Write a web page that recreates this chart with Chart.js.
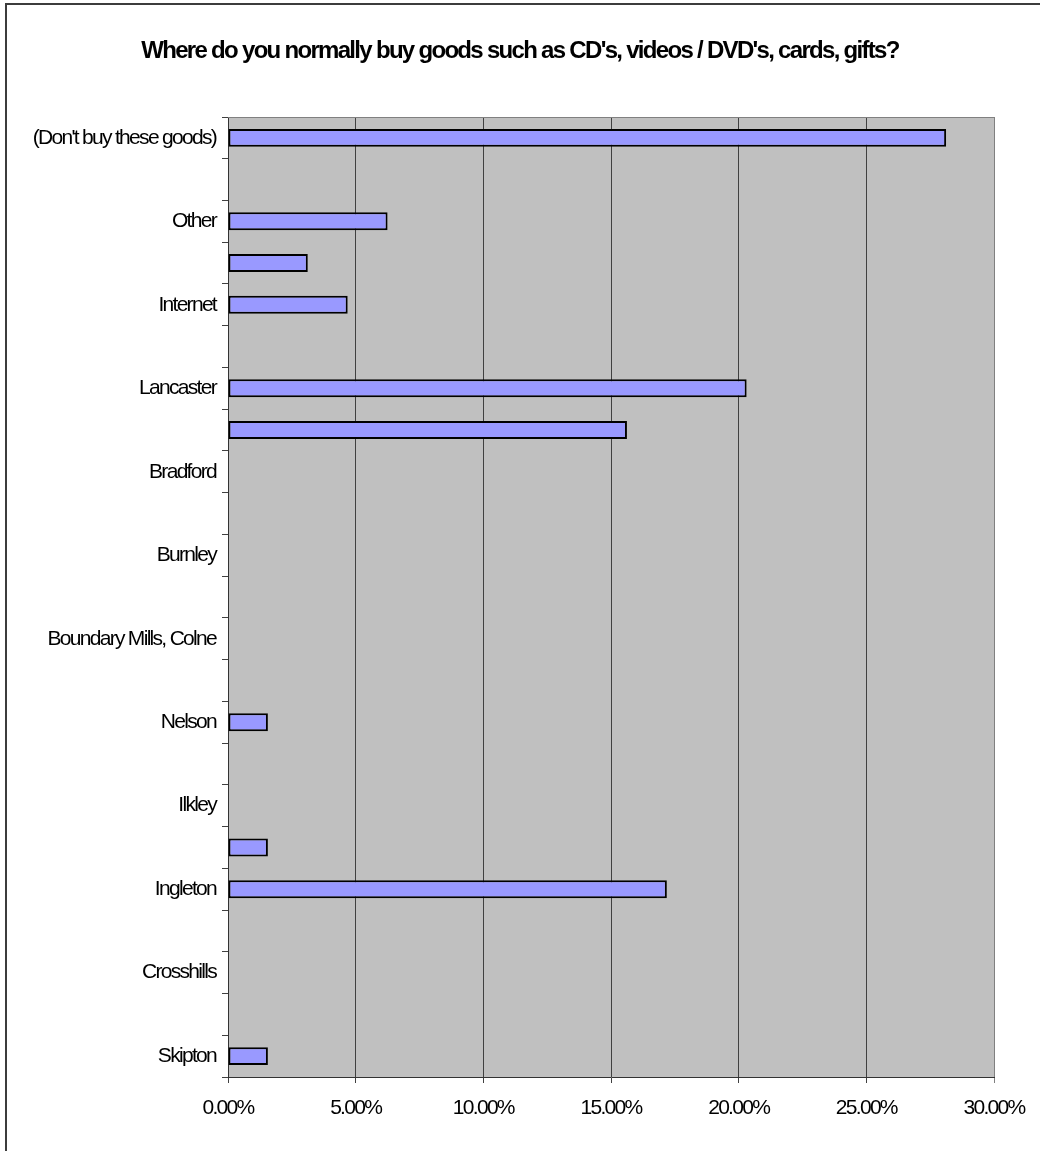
<!DOCTYPE html>
<html lang="en">
<head>
  <meta charset="UTF-8">
  <title>Where do you normally buy goods</title>
  <script src="https://cdn.jsdelivr.net/npm/chart.js"></script>
  <style>
    html, body {
      margin: 0;
      padding: 0;
      background: white;
      overflow: hidden;
    }

    .frame {
      position: absolute;
      left: 5px;
      top: 3px;
      width: 1100px;
      height: 1200px;
      border: 2px solid #3c3c3c;
      pointer-events: none;
    }

    .chart-box {
      position: absolute;
      left: 0;
      top: 0;
      width: 1040px;
      height: 1151px;
    }
  </style>
</head>
<body>

  <div class="chart-box">
    <canvas id="myChart"></canvas>
  </div>
  <div class="frame"></div>

  <script>
    // categories top to bottom (Excel skipped every other label)
    const places = [
      "(Don't buy these goods)", '', 'Other', '', 'Internet', '', 'Lancaster', '',
      'Bradford', '', 'Burnley', '', 'Boundary Mills, Colne', '', 'Nelson', '',
      'Ilkley', '', 'Ingleton', '', 'Crosshills', '', 'Skipton'
    ];
    // share of answers in %
    const shares = [
      28.125, 0, 6.25, 3.125, 4.6875, 0, 20.3125, 15.625,
      0, 0, 0, 0, 0, 0, 1.5625, 0,
      0, 1.5625, 17.1875, 0, 0, 0, 1.5625
    ];
    const xMin = 0;
    const xMax = 30;
    const xStep = 5;

    const fontFamily = 'Arial, "Liberation Sans", sans-serif';

    // Excel draws its text squeezed together
    const tightText = {
      id: 'tightText',
      beforeLayout(chart) {
        chart.ctx.letterSpacing = '-1.7px';
      },
      beforeDraw(chart) {
        chart.ctx.letterSpacing = '-1.7px';
      }
    };

    const plotBackground = {
      id: 'plotBackground',
      beforeDraw(chart) {
        const { ctx, chartArea: a } = chart;
        ctx.save();
        ctx.fillStyle = '#c0c0c0';
        ctx.fillRect(a.left, a.top, a.right - a.left, a.bottom - a.top);
        ctx.restore();
      },
      beforeDatasetsDraw(chart) {
        const { ctx, chartArea: a } = chart;
        ctx.save();
        ctx.strokeStyle = '#808080';
        ctx.lineWidth = 1;
        ctx.beginPath();
        ctx.moveTo(a.left, a.top + 0.5);
        ctx.lineTo(a.right, a.top + 0.5);
        ctx.stroke();
        ctx.restore();
      }
    };

    const ctx = document.getElementById('myChart').getContext('2d');

    const chart = new Chart(ctx, {
      type: 'bar',
      data: {
        labels: places,
        datasets: [{
          data: shares,
          backgroundColor: '#9999ff',
          borderColor: '#000000',
          borderWidth: 2,
          borderSkipped: false,
          barPercentage: 0.43,
          categoryPercentage: 1
        }]
      },
      plugins: [tightText, plotBackground],
      options: {
        indexAxis: 'y',
        responsive: true,
        maintainAspectRatio: false,
        animation: false,
        layout: {
          padding: 0
        },
        plugins: {
          legend: { display: false },
          tooltip: { enabled: false },
          title: {
            display: true,
            text: "Where do you normally buy goods such as CD's, videos / DVD's, cards, gifts?",
            color: '#000000',
            font: { family: fontFamily, size: 24, weight: 'bold' },
            padding: { top: 37, bottom: 51.2 }
          }
        },
        scales: {
          x: {
            min: xMin,
            max: xMax,
            afterFit(scale) { scale.height = 74; },
            afterBuildTicks(scale) {
              const ticks = [];
              for (let v = xMin; v <= xMax; v += xStep) ticks.push({ value: v });
              scale.ticks = ticks;
            },
            ticks: {
              color: '#000000',
              font: { family: fontFamily, size: 21 },
              padding: 13,
              maxRotation: 0,
              callback: (v) => Number(v).toFixed(2) + '%'
            },
            grid: {
              color: (c) => (c.tick && c.tick.value === xMax ? '#808080' : '#404040'),
              lineWidth: 1,
              tickLength: 6
            },
            border: { color: '#333333', width: 1 }
          },
          y: {
            afterFit(scale) { scale.width = 228; },
            ticks: {
              color: '#000000',
              font: { family: fontFamily, size: 21 },
              padding: 6,
              autoSkip: false
            },
            grid: {
              offset: true,
              drawOnChartArea: false,
              color: '#404040',
              tickLength: 6
            },
            border: { color: '#333333', width: 1 }
          },
          // empty strip on the right so the plot stops where Excel's did
          spacer: {
            type: 'category',
            axis: 'y',
            position: 'right',
            afterFit(scale) { scale.width = 46; },
            ticks: { display: false },
            grid: { display: false },
            border: { display: false }
          }
        }
      }
    });
  </script>
</body>
</html>
